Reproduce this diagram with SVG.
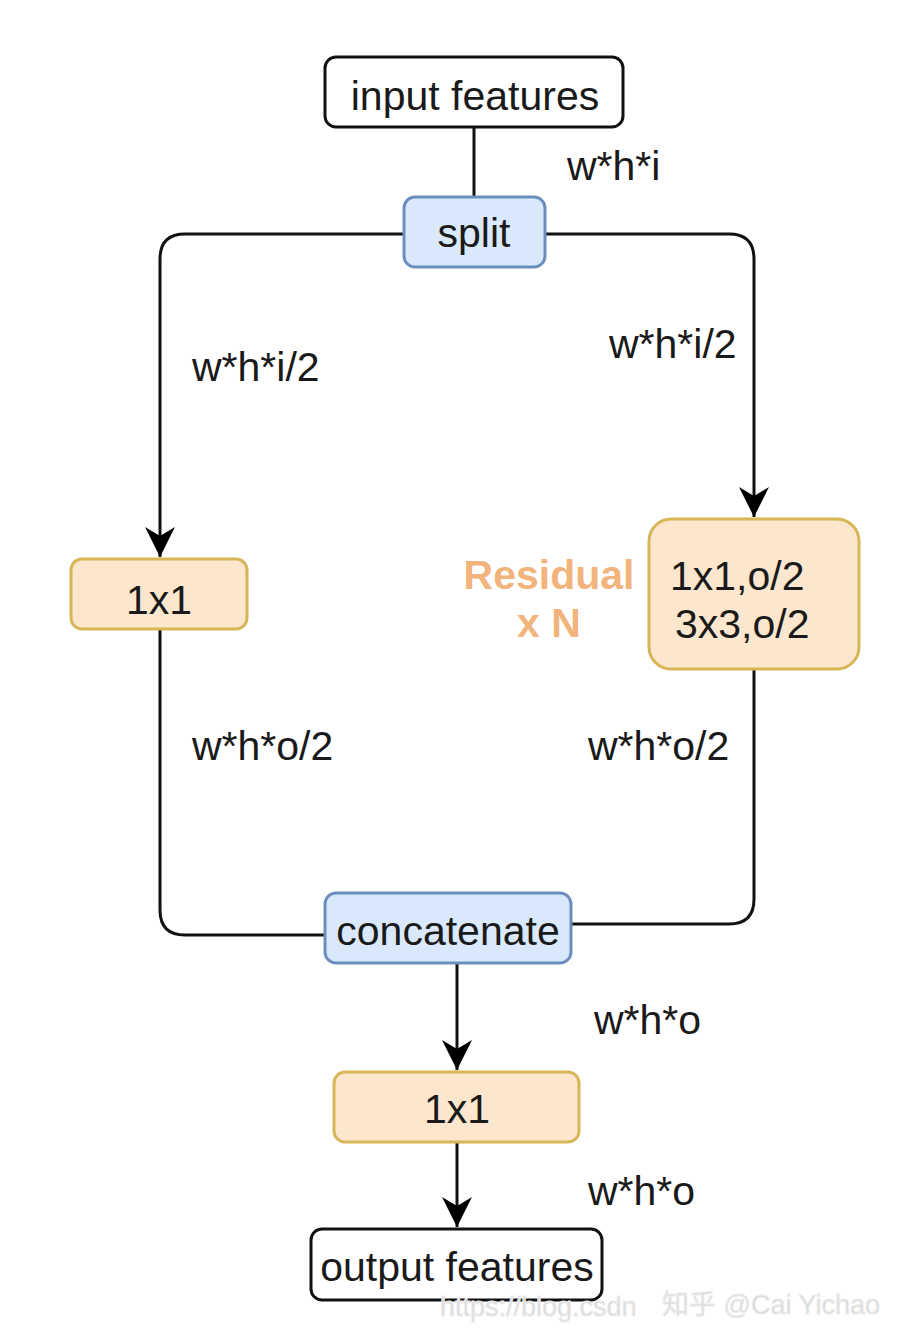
<svg xmlns="http://www.w3.org/2000/svg" width="914" height="1330" viewBox="0 0 914 1330">
<style>
.t{font-family:"Liberation Sans",Arial,sans-serif;font-size:41px;fill:#1a1a1a}
.c{text-anchor:middle}
.plain{fill:#ffffff;stroke:#111;stroke-width:3}
.blue{fill:#dae8fc;stroke:#6c8ebf;stroke-width:3}
.org{fill:#fce6cd;stroke:#d6b656;stroke-width:3}
.ln{fill:none;stroke:#111;stroke-width:3}
.res{font-family:"Liberation Sans",Arial,sans-serif;font-size:41px;font-weight:bold;fill:#f2b47c;text-anchor:middle}
.wm{font-family:"Liberation Sans","Noto Sans CJK SC",sans-serif;font-size:27px;fill:#d8d8d8;stroke:#ececec;stroke-width:1}
</style>
<defs>
<marker id="arr" markerUnits="userSpaceOnUse" viewBox="0 0 30 30" markerWidth="30" markerHeight="30" refX="30" refY="15" orient="auto">
<path d="M0,0 L30,15 L0,30 L9,15 Z" fill="#000"/>
</marker>
</defs>
<rect width="914" height="1330" fill="#fff"/>
<g id="connectors">
<path class="ln" d="M474,127 L474,197"/>
<path class="ln" d="M404,234 L185,234 Q160,234 160,259 L160,557" marker-end="url(#arr)"/>
<path class="ln" d="M545,234 L729,234 Q754,234 754,259 L754,517" marker-end="url(#arr)"/>
<path class="ln" d="M160,629 L160,910 Q160,935 185,935 L325,935"/>
<path class="ln" d="M754,669 L754,899 Q754,924 729,924 L571,924"/>
<path class="ln" d="M457,963 L457,1070" marker-end="url(#arr)"/>
<path class="ln" d="M457,1142 L457,1227" marker-end="url(#arr)"/>
</g>
<g id="labels">
<text class="t" x="567" y="180">w*h*i</text>
<text class="t" x="192" y="381">w*h*i/2</text>
<text class="t" x="609" y="358">w*h*i/2</text>
<text class="t" x="192" y="760">w*h*o/2</text>
<text class="t" x="588" y="760">w*h*o/2</text>
<text class="t" x="594" y="1034">w*h*o</text>
<text class="t" x="588" y="1205">w*h*o</text>
<text class="res" x="549" y="589">Residual</text>
<text class="res" x="549" y="637">x N</text>
</g>
<g id="input">
<rect class="plain" x="325" y="57" width="298" height="70" rx="11"/>
<text class="t c" x="475" y="110">input features</text>
</g>
<g id="split">
<rect class="blue" x="404" y="197" width="141" height="70" rx="11"/>
<text class="t c" x="474" y="247">split</text>
</g>
<g id="conv1x1_left">
<rect class="org" x="71" y="559" width="176" height="70" rx="11"/>
<text class="t c" x="159" y="614">1x1</text>
</g>
<g id="residual">
<rect class="org" x="649" y="519" width="210" height="150" rx="22"/>
<text class="t" x="670" y="590">1x1,o/2</text>
<text class="t" x="675" y="638">3x3,o/2</text>
</g>
<g id="concatenate">
<rect class="blue" x="325" y="893" width="246" height="70" rx="11"/>
<text class="t c" x="448" y="945">concatenate</text>
</g>
<g id="conv1x1_bottom">
<rect class="org" x="334" y="1072" width="245" height="70" rx="11"/>
<text class="t c" x="457" y="1123">1x1</text>
</g>
<g id="output">
<rect class="plain" x="311" y="1229" width="291" height="71" rx="11"/>
<text class="t c" x="457" y="1281">output features</text>
</g>
<g id="watermark">
<text class="wm" x="440" y="1316">https://blog.csdn</text>
<text class="wm" x="662" y="1314">知乎 @Cai Yichao</text>
</g>
</svg>
